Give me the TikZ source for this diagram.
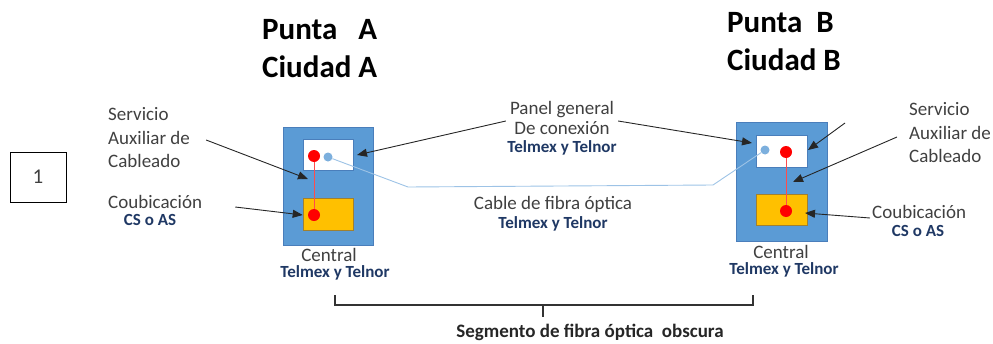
\documentclass[tikz,border=0pt]{standalone}
\usepackage{fontspec}
\setmainfont{Carlito}
\usetikzlibrary{arrows.meta}
\definecolor{ctrblue}{HTML}{5B9BD5}
\definecolor{ctredge}{HTML}{4A7EBB}
\definecolor{coubyel}{HTML}{FFC000}
\definecolor{coubedge}{HTML}{A08030}
\definecolor{cablblue}{HTML}{9DC3E6}
\definecolor{txtgray}{HTML}{404040}
\definecolor{subnavy}{HTML}{1F3864}
\begin{document}
\begin{tikzpicture}[x=1pt,y=-1pt,
central/.style={draw=ctredge,fill=ctrblue,line width=0.8pt,minimum width=90pt,minimum height=118pt,inner sep=0},
panel/.style={draw=ctredge,fill=white,line width=0.6pt,minimum width=50pt,minimum height=31pt,inner sep=0},
coub/.style={draw=coubedge,fill=coubyel,line width=0.6pt,minimum width=50pt,minimum height=32pt,inner sep=0},
reddot/.style={circle,fill=red,minimum size=12pt,inner sep=0},
bluedot/.style={circle,fill=ctrblue!80,minimum size=9pt,inner sep=0},
lbl/.style={text=txtgray,font=\fontsize{19}{23.5}\selectfont,inner sep=0},
sub/.style={text=subnavy,font=\bfseries\fontsize{17}{20}\selectfont,inner sep=0},
title/.style={text=black,font=\bfseries\fontsize{31}{38}\selectfont,inner sep=0,align=left,anchor=west},
arr/.style={draw=black!85,line width=0.9pt,-{Triangle[length=10pt,width=8pt]}}]
\useasboundingbox (0,0) rectangle (993,343);
% numero
\node[draw,line width=1pt,minimum width=56pt,minimum height=50pt,lbl,font=\fontsize{21}{24}\selectfont] (num) at (38,177) {1};
% titulos
\node[title] (titA) at (262,49) {Punta~~~A\\Ciudad A};
\node[title] (titB) at (727,42) {Punta~~B\\Ciudad B};
% central A
\node[central] (centralA) at (328,186) {};
\node[panel] (panelA) at (328,155) {};
\node[coub] (coubA) at (328,214) {};
\node[reddot] (redA1) at (314,156) {};
\node[bluedot] (blueA) at (328,157) {};
\node[reddot] (redA2) at (314,215) {};
\draw[red!70,line width=0.8pt] (redA1) -- (redA2);
% central B
\node[central,minimum width=91pt,minimum height=119pt] (centralB) at (781.5,181.5) {};
\node[panel,minimum width=51pt,minimum height=32pt] (panelB) at (781.5,151) {};
\node[coub,minimum width=51pt,minimum height=31pt] (coubB) at (781.5,209.5) {};
\node[bluedot] (blueB) at (765,150) {};
\node[reddot] (redB1) at (786,152) {};
\node[reddot] (redB2) at (786,211) {};
\draw[red!70,line width=0.8pt] (redB1) -- (redB2);
% cable
\coordinate (bendA) at (408,187);
\coordinate (bendB) at (713,185);
\draw[cablblue,line width=0.9pt] (blueA) -- (bendA) -- (bendB) -- (blueB);
% textos lado A
\node[lbl,align=left,anchor=west] (serA) at (108,138) {Servicio\\Auxiliar de\\Cableado};
\node[lbl,anchor=west] (coubLblA) at (108,202) {Coubicación};
\node[sub] (csA) at (150,220) {CS o AS};
\node[lbl] (cenA) at (329,255) {Central};
\node[sub] (telA) at (335,273) {Telmex y Telnor};
\draw[arr] ([shift={(16,2)}]serA.east) -- (308,179);
\draw[arr] ([shift={(33,5)}]coubLblA.east) -- (coubA.west |- 0,215);
% textos lado B
\node[lbl,align=left,anchor=west] (serB) at (909,133) {Servicio\\Auxiliar de\\Cableado};
\node[lbl,anchor=west] (coubLblB) at (872,212) {Coubicación};
\node[sub] (csB) at (918,231) {CS o AS};
\node[lbl] (cenB) at (781,252) {Central};
\node[sub] (telB) at (784,270) {Telmex y Telnor};
\coordinate (srcB) at (845,123);
\draw[arr] (srcB) -- (808,150);
\draw[arr] ([shift={(-12,4)}]serB.west) -- (793,182);
\draw[arr] ([shift={(-2,6)}]coubLblB.west) -- (805,213);
% textos centro
\node[lbl,align=center,font=\fontsize{19}{20}\selectfont] (panLbl) at (562,118) {Panel general\\De conexión};
\node[sub] (panTel) at (562,148) {Telmex y Telnor};
\draw[arr] ([shift={(-4,3)}]panLbl.west) -- (357,155);
\draw[arr] ([shift={(4,3)}]panLbl.east) -- (752,143);
\node[lbl] (cabLbl) at (553,204) {Cable de fibra óptica};
\node[sub] (cabTel) at (553,224) {Telmex y Telnor};
% segmento
\coordinate (segL) at (335,305);
\coordinate (segR) at (753,305);
\coordinate (segM) at (543,305);
\draw[black!80,line width=1.1pt] (segL) ++(0,-10) -- (segL) -- (segR) -- ++(0,-10);
\draw[black!80,line width=1.1pt] (segM) -- ++(0,12);
\node[text=black!85,font=\bfseries\fontsize{19}{22}\selectfont,inner sep=0] (segLbl) at (590,332) {Segmento de fibra óptica~ obscura};
\end{tikzpicture}
\end{document}
